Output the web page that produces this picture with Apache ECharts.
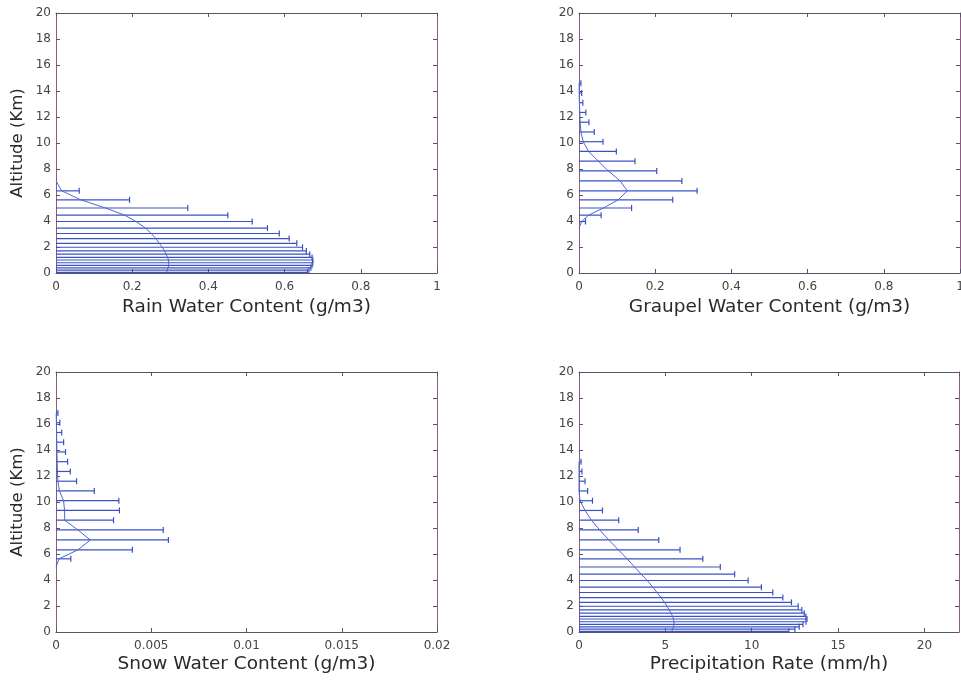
<!DOCTYPE html>
<html>
<head>
<meta charset="utf-8">
<script src="https://cdn.jsdelivr.net/npm/echarts@6/dist/echarts.min.js"></script>
<style>
html,body{margin:0;padding:0;background:#fff;}
#chart{width:961px;height:682px;}
</style>
</head>
<body>
<div id="chart"></div>
<script>
// Altitude levels (km) shared by all four profiles
const altitudeLevels = [0.05,0.22,0.40,0.59,0.79,1.00,1.20,1.45,1.70,1.98,2.28,2.65,3.04,3.45,3.96,4.45,5.00,5.63,6.32,7.08,7.85,8.60,9.35,10.10,10.85,11.60,12.35,13.10,13.85,14.60,15.35,16.10,16.85];

// Rain water content (g/m3): mean and right end of error bar (mean + std)
const rainMean  = [0.290,0.292,0.294,0.296,0.296,0.295,0.293,0.289,0.285,0.279,0.271,0.262,0.250,0.235,0.210,0.180,0.130,0.065,0.015,0.000,null,null,null,null,null,null,null,null,null,null,null,null,null];
const rainUpper = [0.660,0.664,0.669,0.672,0.674,0.674,0.672,0.666,0.657,0.647,0.632,0.612,0.586,0.555,0.515,0.451,0.346,0.193,0.061,null,null,null,null,null,null,null,null,null,null,null,null,null,null];

// Graupel water content (g/m3)
const graupelMean  = [null,null,null,null,null,null,null,null,null,null,null,null,null,0.000,0.007,0.025,0.064,0.103,0.127,0.108,0.077,0.051,0.025,0.011,0.005,0.003,0.002,0.001,0.0005,0.0003,null,null,null];
const graupelUpper = [null,null,null,null,null,null,null,null,null,null,null,null,null,null,0.017,0.058,0.138,0.246,0.310,0.270,0.204,0.147,0.098,0.063,0.040,0.026,0.018,0.010,0.007,0.005,null,null,null];

// Snow water content (g/m3)
const snowMean  = [null,null,null,null,null,null,null,null,null,null,null,null,null,null,null,null,0.00000,0.00016,0.00115,0.00180,0.00115,0.00046,0.00045,0.00040,0.00018,0.00010,0.00008,0.00006,0.00005,0.00004,0.00003,0.00002,0.00001];
const snowUpper = [null,null,null,null,null,null,null,null,null,null,null,null,null,null,null,null,null,0.00078,0.00401,0.00590,0.00563,0.00302,0.00333,0.00330,0.00201,0.00108,0.00075,0.00061,0.00050,0.00040,0.00030,0.00020,0.00010];

// Precipitation rate (mm/h)
const precipMean  = [5.37,5.42,5.47,5.50,5.50,5.47,5.42,5.33,5.22,5.10,4.95,4.75,4.52,4.27,3.95,3.60,3.22,2.78,2.28,1.72,1.20,0.72,0.35,0.06,0.00,0.00,0.00,0.00,null,null,null,null,null];
const precipUpper = [12.15,12.50,12.75,12.97,13.14,13.20,13.14,13.04,12.90,12.69,12.30,11.80,11.22,10.56,9.79,9.01,8.18,7.17,5.85,4.62,3.43,2.30,1.36,0.78,0.50,0.35,0.17,0.12,null,null,null,null,null];

// Axis tick settings
const altitudeTicks = {min: 0, max: 20, interval: 2};
const panels = [
  {name: 'Rain Water Content (g/m3)',    mean: rainMean,    upper: rainUpper,    min: 0, max: 1,    interval: 0.2,   yName: 'Altitude (Km)', hideMax: false},
  {name: 'Graupel Water Content (g/m3)', mean: graupelMean, upper: graupelUpper, min: 0, max: 1,    interval: 0.2,   yName: '',              hideMax: false},
  {name: 'Snow Water Content (g/m3)',    mean: snowMean,    upper: snowUpper,    min: 0, max: 0.02, interval: 0.005, yName: 'Altitude (Km)', hideMax: false},
  {name: 'Precipitation Rate (mm/h)',    mean: precipMean,  upper: precipUpper,  min: 0, max: 22,   interval: 5,     yName: '',              hideMax: true}
];

const grids = [
  {left: 56,  top: 13,  width: 381, height: 260, outerBoundsMode: 'none', containLabel: false},
  {left: 579, top: 13,  width: 381, height: 260, outerBoundsMode: 'none', containLabel: false},
  {left: 56,  top: 372, width: 381, height: 260, outerBoundsMode: 'none', containLabel: false},
  {left: 579, top: 372, width: 380, height: 260, outerBoundsMode: 'none', containLabel: false}
];
const nameGaps = [25, 25, 23, 23];

const barColor = '#3852c4';
const lineColor = '#4d68cc';
const frameX = '#55556a';
const frameY = '#8c5a84';
const font = 'DejaVu Sans';

const xAxes = [], yAxes = [], series = [];
panels.forEach((p, i) => {
  const common = {type: 'value', gridIndex: i, min: p.min, max: p.max, interval: p.interval,
    splitLine: {show: false},
    axisTick: {show: true, inside: true, length: 4, lineStyle: {color: frameX}},
    axisLine: {show: true, onZero: false, lineStyle: {color: frameX, width: 1}}};
  xAxes.push(Object.assign({}, common, {position: 'bottom', name: p.name, nameLocation: 'middle', nameGap: nameGaps[i],
    nameTextStyle: {fontFamily: font, fontSize: 18.5, color: '#2a2a2a', verticalAlign: 'top'},
    axisLabel: {show: true, margin: 8, fontFamily: font, fontSize: 12, color: '#444', showMaxLabel: !p.hideMax,
      formatter: v => String(+v.toFixed(4))}}));
  xAxes.push(Object.assign({}, common, {position: 'top', axisLabel: {show: false}}));
  const ycommon = {type: 'value', gridIndex: i, min: altitudeTicks.min, max: altitudeTicks.max, interval: altitudeTicks.interval,
    splitLine: {show: false},
    axisTick: {show: true, inside: true, length: 4, lineStyle: {color: frameX}},
    axisLine: {show: true, onZero: false, lineStyle: {color: frameY, width: 1}}};
  yAxes.push(Object.assign({}, ycommon, {position: 'left', name: p.yName, nameLocation: 'middle', nameGap: 30,
    nameTextStyle: {fontFamily: font, fontSize: 16.5, color: '#2a2a2a'},
    axisLabel: {show: true, margin: 5, fontFamily: font, fontSize: 12, color: '#444'}}));
  yAxes.push(Object.assign({}, ycommon, {position: 'right', axisLabel: {show: false}}));

  const barData = [];
  const lineData = [];
  altitudeLevels.forEach((alt, k) => {
    const m = p.mean[k], u = p.upper[k];
    if (m !== null) lineData.push([m, alt]);
    if (m !== null && u !== null) {
      const lower = Math.max(p.min, 2 * m - u);
      barData.push([lower, u, alt, (2 * m - u) > p.min ? 1 : 0]);
    }
  });
  series.push({
    type: 'custom', xAxisIndex: 2 * i, yAxisIndex: 2 * i, clip: true, silent: true,
    encode: {x: [0, 1], y: 2},
    data: barData,
    renderItem: (params, api) => {
      const a = api.coord([api.value(0), api.value(2)]);
      const b = api.coord([api.value(1), api.value(2)]);
      const st = {stroke: barColor, lineWidth: 1.2, fill: null};
      const children = [
        {type: 'line', shape: {x1: a[0], y1: a[1], x2: b[0], y2: b[1]}, style: st},
        {type: 'line', shape: {x1: b[0], y1: b[1] - 3, x2: b[0], y2: b[1] + 3}, style: st}
      ];
      if (api.value(3) === 1) children.push({type: 'line', shape: {x1: a[0], y1: a[1] - 3, x2: a[0], y2: a[1] + 3}, style: st});
      return {type: 'group', children};
    }
  });
  series.push({
    type: 'line', xAxisIndex: 2 * i, yAxisIndex: 2 * i, data: lineData, showSymbol: false, symbol: 'none',
    smooth: false, silent: true, lineStyle: {color: lineColor, width: 1}, z: 3
  });
});

const chart = echarts.init(document.getElementById('chart'), null, {renderer: 'canvas'});
chart.setOption({
  animation: false,
  backgroundColor: '#ffffff',
  grid: grids,
  xAxis: xAxes,
  yAxis: yAxes,
  series: series
});
</script>
</body>
</html>
